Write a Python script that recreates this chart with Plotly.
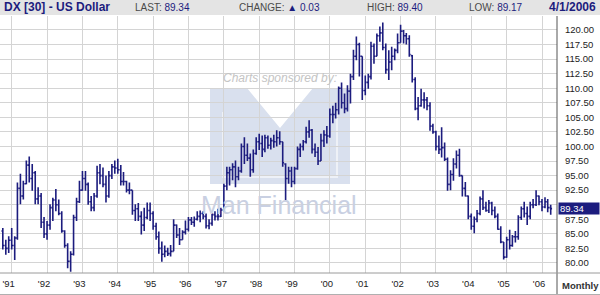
import plotly.graph_objects as go
import pandas as pd

# ---------------- data (monthly OHLC, Oct 1990 .. Apr 2006) ----------------
START_MONTH = "1990-10-01"

OPEN = [
    85.5, 83.0, 82.5,
    83.9, 83.0, 84.3, 92.8, 91.5, 93.6, 96.8, 94.5, 95.5, 91.0, 91.5, 87.0,
    85.0, 86.5, 89.5, 90.8, 90.0, 88.5, 85.5, 83.0, 80.3, 81.5, 87.8, 90.5,
    92.5, 94.5, 93.5, 90.5, 89.5, 91.5, 95.5, 95.0, 93.5, 91.5, 95.0, 96.5,
    96.3, 96.0, 94.0, 94.0, 92.5, 92.5, 89.0, 89.3, 88.0, 86.5, 87.8, 89.0,
    88.5, 86.3, 84.5, 82.5, 81.5, 82.0, 81.6, 82.0, 86.5, 84.8, 84.0, 85.3,
    85.8, 87.4, 87.0, 87.5, 88.0, 88.5, 88.0, 86.4, 86.8, 88.3, 88.0, 88.0,
    89.1, 93.2, 95.5, 96.0, 96.5, 94.8, 95.8, 100.0, 98.5, 98.0, 96.0, 98.8,
    100.8, 100.5, 99.5, 101.5, 100.2, 101.0, 100.8, 101.5, 100.8, 97.0, 94.5, 95.8,
    94.0, 96.2, 99.5, 100.0, 100.8, 102.5, 102.8, 99.5, 99.0, 97.5, 101.0, 102.0,
    101.8, 105.5, 105.5, 106.3, 110.0, 107.5, 106.5, 109.5, 112.0, 115.5, 117.5, 115.5,
    109.6, 111.0, 112.0, 117.2, 115.5, 119.0, 119.5, 117.0, 113.2, 114.5, 115.5, 116.5,
    117.8, 119.8, 119.0, 118.5, 115.6, 111.5, 106.5, 107.0, 108.0, 108.0, 107.0, 103.5,
    102.5, 100.0, 99.5, 99.8, 97.8, 93.5, 95.2, 97.0, 98.5, 95.0, 92.8, 91.5,
    88.0, 86.3, 87.5, 88.5, 91.0, 89.5, 89.0, 90.3, 89.0, 88.0, 85.8, 83.6,
    81.0, 84.0, 83.0, 84.5, 84.5, 87.8, 89.3, 88.5, 88.0, 90.0, 90.0, 91.5,
    90.5, 89.6, 90.5, 89.5,
]
HIGH = [
    86.0, 84.0, 84.6,
    86.0, 84.6, 93.8, 95.3, 94.1, 97.6, 98.3, 97.0, 95.8, 93.0, 92.0, 87.9,
    87.2, 90.1, 91.2, 92.7, 90.9, 88.9, 85.6, 83.4, 82.0, 88.3, 91.2, 94.1,
    95.8, 95.8, 93.8, 91.5, 92.0, 96.7, 97.0, 96.4, 95.0, 95.8, 97.0, 97.6,
    97.9, 96.8, 95.6, 94.1, 93.8, 92.5, 90.1, 90.3, 88.9, 89.5, 90.4, 90.4,
    88.9, 86.9, 85.4, 83.7, 83.0, 82.6, 83.1, 87.5, 86.6, 86.0, 85.6, 87.3,
    87.9, 87.9, 88.0, 88.9, 89.0, 88.9, 88.5, 87.5, 88.6, 88.9, 89.3, 89.5,
    93.6, 96.5, 96.5, 97.1, 97.6, 96.5, 100.5, 101.6, 100.5, 98.8, 99.5, 101.6,
    102.2, 101.9, 102.0, 101.9, 101.5, 102.0, 102.8, 102.6, 100.8, 97.1, 96.5, 96.5,
    96.5, 100.0, 100.5, 101.1, 103.4, 104.5, 103.0, 100.5, 99.9, 102.2, 102.8, 103.5,
    106.5, 107.0, 107.5, 110.3, 111.0, 109.1, 110.5, 112.5, 116.6, 118.9, 117.8, 115.5,
    112.2, 112.5, 118.0, 117.7, 119.4, 120.6, 121.3, 117.7, 116.5, 117.1, 116.8, 119.4,
    120.9, 120.0, 119.5, 119.1, 115.7, 111.9, 108.5, 109.9, 109.3, 108.5, 107.6, 103.9,
    102.7, 101.9, 103.3, 100.7, 98.1, 95.9, 98.0, 99.3, 99.6, 95.0, 93.9, 91.6,
    88.5, 88.0, 89.1, 91.4, 92.5, 90.5, 90.8, 90.5, 89.7, 88.5, 86.3, 83.6,
    84.5, 85.7, 84.8, 85.5, 88.2, 89.7, 90.5, 89.7, 90.5, 91.0, 92.5, 91.6,
    91.0, 91.3, 91.0, 90.0,
]
LOW = [
    82.3, 81.4, 81.7,
    82.3, 80.5, 84.0, 90.1, 90.9, 93.5, 93.8, 92.4, 90.1, 90.1, 86.0, 84.3,
    84.0, 85.7, 87.2, 88.9, 88.2, 85.2, 82.6, 79.1, 78.5, 81.3, 87.2, 90.3,
    92.4, 92.4, 90.0, 88.9, 88.9, 91.2, 93.5, 93.0, 90.4, 91.2, 94.4, 95.3,
    95.3, 93.3, 93.3, 92.1, 91.8, 88.3, 87.2, 87.2, 84.9, 85.5, 87.5, 87.2,
    85.7, 84.0, 81.6, 80.2, 81.0, 81.2, 81.1, 82.0, 84.3, 83.1, 84.0, 84.9,
    85.4, 86.5, 86.2, 87.3, 87.0, 87.5, 85.9, 85.8, 86.4, 87.3, 87.3, 87.9,
    88.8, 92.5, 93.3, 94.2, 93.0, 94.2, 95.5, 97.0, 97.5, 94.8, 95.5, 98.6,
    99.4, 98.2, 99.0, 99.6, 99.5, 99.8, 100.0, 100.3, 96.5, 90.8, 93.6, 93.0,
    93.5, 96.0, 98.2, 99.3, 100.5, 101.5, 98.8, 98.2, 96.8, 97.5, 99.9, 100.5,
    101.5, 104.0, 104.8, 105.5, 106.5, 105.7, 106.0, 107.4, 111.4, 114.8, 112.0, 108.0,
    108.8, 109.9, 111.5, 114.2, 115.5, 118.0, 116.5, 112.5, 111.4, 113.1, 114.8, 116.0,
    117.8, 117.7, 117.5, 115.4, 111.0, 106.2, 104.5, 106.8, 106.5, 106.2, 102.7, 102.2,
    99.3, 98.7, 98.1, 97.5, 92.4, 92.5, 94.1, 96.2, 94.8, 91.4, 91.4, 87.5,
    85.7, 85.1, 87.0, 88.2, 89.1, 88.8, 88.6, 88.2, 87.7, 85.7, 83.4, 80.6,
    80.9, 82.3, 82.8, 83.5, 84.0, 87.4, 87.8, 86.5, 87.5, 89.4, 89.8, 89.9,
    88.9, 89.4, 88.7, 88.3,
]
CLOSE = [
    83.0, 82.5, 83.9,
    83.0, 84.3, 92.8, 91.5, 93.6, 96.8, 94.5, 95.5, 91.0, 91.5, 87.0, 85.0,
    86.5, 89.5, 90.8, 90.0, 88.5, 85.5, 83.0, 80.3, 81.5, 87.8, 90.5, 92.5,
    94.5, 93.5, 90.5, 89.5, 91.5, 95.5, 95.0, 93.5, 91.5, 95.0, 96.5, 96.3,
    96.0, 94.0, 94.0, 92.5, 92.5, 89.0, 89.3, 88.0, 86.5, 87.8, 89.0, 88.5,
    86.3, 84.5, 82.5, 81.5, 82.0, 81.6, 82.0, 86.5, 84.8, 84.0, 85.3, 85.8,
    87.4, 87.0, 87.5, 88.0, 88.5, 88.0, 86.4, 86.8, 88.3, 88.0, 88.0, 89.1,
    93.2, 95.5, 96.0, 96.5, 94.8, 95.8, 100.0, 98.5, 98.0, 96.0, 98.8, 100.8,
    100.5, 99.5, 101.5, 100.2, 101.0, 100.8, 101.5, 100.8, 97.2, 94.5, 95.8, 94.0,
    96.2, 99.5, 100.0, 100.8, 102.5, 102.8, 99.5, 99.0, 97.5, 101.0, 102.0, 101.8,
    105.5, 105.5, 106.3, 110.0, 107.5, 106.5, 109.5, 112.0, 115.5, 117.5, 115.5, 109.6,
    111.0, 112.0, 117.2, 115.5, 119.0, 119.5, 117.0, 113.2, 114.5, 115.5, 116.5, 117.8,
    119.8, 119.0, 118.5, 115.8, 111.5, 106.5, 107.0, 108.0, 108.0, 107.0, 103.5, 102.5,
    100.0, 99.5, 99.8, 97.8, 93.5, 95.2, 97.0, 98.5, 95.0, 92.8, 91.5, 88.0,
    86.3, 87.5, 88.5, 91.0, 89.5, 89.0, 90.3, 89.0, 88.0, 85.8, 83.6, 81.0,
    84.0, 83.0, 84.5, 84.5, 87.8, 89.3, 88.5, 88.0, 90.0, 90.0, 91.5, 90.5,
    89.6, 90.5, 89.5, 89.34,
]

YEAR_TICKS = [f"{y}-01-01" for y in range(1991, 2007)]
YEAR_LABELS = ["'91", "'92", "'93", "'94", "'95", "'96", "'97", "'98",
               "'99", "'00", "'01", "'02", "'03", "'04", "'05", "'06"]
PRICE_TICKS = [80.0, 82.5, 85.0, 87.5, 90.0, 92.5, 95.0, 97.5, 100.0,
               102.5, 105.0, 107.5, 110.0, 112.5, 115.0, 117.5, 120.0]
HIDDEN_TICK = 90.0   # label hidden behind the last-price box

TITLE = "DX [30] - US Dollar"
LAST, CHANGE, DAY_HIGH, DAY_LOW = "89.34", "0.03", "89.40", "89.17"
DATE_TEXT = "4/1/2006"

# ---------------- figure ----------------
NAVY = "#1c1c7e"
W, H = 600, 295
ML, MR, MT, MB = 0, 43, 16, 22
PW, PH = W - ML - MR, H - MT - MB


def px(x, y):
    """pixel -> paper coordinates"""
    return (x - ML) / PW, (H - MB - y) / PH


dates = pd.date_range(START_MONTH, periods=len(CLOSE), freq="MS")

fig = go.Figure()
fig.add_trace(go.Ohlc(
    x=dates, open=OPEN, high=HIGH, low=LOW, close=CLOSE,
    increasing=dict(line=dict(color=NAVY, width=1.6)),
    decreasing=dict(line=dict(color=NAVY, width=1.6)),
    tickwidth=0.5, hoverinfo="skip", showlegend=False,
))

shapes = []
annotations = []

# header strip
x0, y0 = px(0, 0)
x1, y1 = px(W, 15)
shapes.append(dict(type="rect", xref="paper", yref="paper", x0=x0, x1=x1, y0=y1, y1=y0,
                   fillcolor="#e4e4e4", line=dict(width=0), layer="above"))

# watermark logo (M block)
lx = lambda x: px(x, 0)[0]
ly = lambda y: px(0, y)[1]
logo_path = (f"M {lx(210)},{ly(88)} L {lx(247)},{ly(88)} L {lx(280)},{ly(128)} "
             f"L {lx(313)},{ly(88)} L {lx(350)},{ly(88)} L {lx(350)},{ly(184)} "
             f"L {lx(210)},{ly(184)} Z")
shapes.append(dict(type="path", xref="paper", yref="paper", path=logo_path,
                   fillcolor="#d9e0ee", line=dict(width=0), layer="below"))
inner_path = (f"M {lx(223)},{ly(112)} L {lx(223)},{ly(177)} L {lx(337)},{ly(177)} "
              f"L {lx(337)},{ly(112)}")
shapes.append(dict(type="path", xref="paper", yref="paper", path=inner_path,
                   line=dict(color="#eef1f7", width=2), layer="below"))

# right axis divider line
xa, ya = px(557, 16)
_, yb = px(557, 295)
shapes.append(dict(type="line", xref="paper", yref="paper", x0=xa, x1=xa, y0=yb, y1=ya,
                   line=dict(color="#555555", width=1), layer="above"))
# bottom lines
_, yl = px(0, 273)
shapes.append(dict(type="line", xref="paper", yref="paper", x0=px(0, 0)[0], x1=px(W, 0)[0],
                   y0=yl, y1=yl, line=dict(color="#9a9a9a", width=1), layer="above"))
_, yl2 = px(0, 294.5)
shapes.append(dict(type="line", xref="paper", yref="paper", x0=px(0, 0)[0], x1=px(W, 0)[0],
                   y0=yl2, y1=yl2, line=dict(color="#b0b0b0", width=1), layer="above"))

FONT = "Arial, Liberation Sans, sans-serif"
GRAY = "#4a4a4a"


def header_text(x, text, size=10, bold=False, color=GRAY):
    xx, yy = px(x, 7.5)
    annotations.append(dict(xref="paper", yref="paper", x=xx, y=yy, xanchor="left",
                            yanchor="middle", showarrow=False, text=text,
                            font=dict(family=FONT, size=size, color=color,
                                      weight="bold" if bold else "normal")))


header_text(2, TITLE, size=12, bold=True, color=NAVY)
header_text(133, f"LAST: <span style='color:{NAVY}'>{LAST}</span>")
header_text(237, f"CHANGE: <span style='color:{NAVY}'>▲ {CHANGE}</span>")
header_text(365, f"HIGH: <span style='color:{NAVY}'>{DAY_HIGH}</span>")
header_text(467, f"LOW: <span style='color:{NAVY}'>{DAY_LOW}</span>")
header_text(547, DATE_TEXT, size=12, bold=True, color=NAVY)

# watermark texts
xx, yy = px(280, 78)
annotations.append(dict(xref="paper", yref="paper", x=xx, y=yy, showarrow=False,
                        xanchor="center", yanchor="middle",
                        text="<i>Charts sponsored by:</i>",
                        font=dict(family=FONT, size=12, color="#c4c4c4")))
xx, yy = px(279, 205)
annotations.append(dict(xref="paper", yref="paper", x=xx, y=yy, showarrow=False,
                        xanchor="center", yanchor="middle",
                        text="Man Financial",
                        font=dict(family=FONT, size=25, color="#c9d0e2")))

# last price box
annotations.append(dict(xref="paper", yref="y", x=px(558, 0)[0], y=float(LAST),
                        xanchor="left", yanchor="middle", showarrow=False,
                        text=LAST, align="left", width=38, height=9,
                        bgcolor=NAVY, borderpad=1,
                        font=dict(family=FONT, size=9.5, color="white")))
# "Monthly" label
xx, yy = px(580, 285)
annotations.append(dict(xref="paper", yref="paper", x=xx, y=yy, showarrow=False,
                        xanchor="center", yanchor="middle",
                        text="<b>Monthly</b>",
                        font=dict(family=FONT, size=9.5, color="#333333")))

label_ticks = [v for v in PRICE_TICKS if v != HIDDEN_TICK]

fig.update_layout(
    width=W, height=H,
    margin=dict(l=ML, r=MR, t=MT, b=MB, pad=0),
    paper_bgcolor="white", plot_bgcolor="white",
    shapes=shapes, annotations=annotations,
    showlegend=False,
    xaxis=dict(
        type="date", range=["1990-09-02", "2006-06-05"],
        rangeslider=dict(visible=False),
        tickvals=YEAR_TICKS, ticktext=YEAR_LABELS,
        showgrid=True, gridcolor="#d4d4d4", gridwidth=1,
        zeroline=False, showline=False,
        ticks="outside", ticklen=2, tickcolor="rgba(0,0,0,0)",
        ticklabelshift=-3,
        tickfont=dict(family=FONT, size=9.5, color="#222222"),
        fixedrange=True,
    ),
    yaxis=dict(
        side="right", range=[78.28, 122.40],
        tickvals=label_ticks, ticktext=[f"{v:.2f}" for v in label_ticks],
        showgrid=True, gridcolor="#d4d4d4", gridwidth=1,
        minor=dict(tickvals=[HIDDEN_TICK], showgrid=True, gridcolor="#d4d4d4",
                   gridwidth=1, ticks=""),
        zeroline=False, showline=False,
        ticks="outside", ticklen=5, tickcolor="rgba(0,0,0,0)",
        tickfont=dict(family=FONT, size=9.5, color="#222222"),
        fixedrange=True,
    ),
)

fig.write_html("out.html")
